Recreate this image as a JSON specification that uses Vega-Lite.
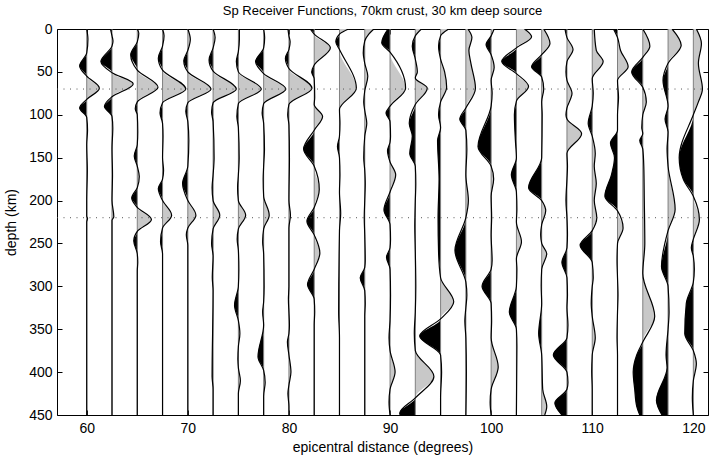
{
"$schema": "https://vega.github.io/schema/vega-lite/v6.json",
"width": 651, "height": 386,
"autosize": {"type": "none"},
"padding": {"left": 57, "top": 29, "right": 1, "bottom": 44},
"background": "white",
"config": {
  "view": {"stroke": "black", "strokeWidth": 1},
  "font": "Liberation Sans",
  "axis": {"grid": false, "domain": false, "tickSize": 5, "offset": -5, "tickColor": "black", "labelColor": "black", "titleColor": "black", "labelFontSize": 14, "titleFontSize": 14, "titleFontWeight": "normal", "labelFont": "Liberation Sans", "titleFont": "Liberation Sans"}
},
"title": {"text": "Sp Receiver Functions, 70km crust, 30 km deep source", "fontSize": 13, "fontWeight": "normal", "font": "Liberation Sans", "color": "black", "offset": 4},
"data": {"values": [
{"d":60,"z":0,"a":0},{"d":60,"z":12,"a":0.12},{"d":60,"z":28,"a":0},{"d":60,"z":43,"a":-0.7},{"d":60,"z":55,"a":0},{"d":60,"z":69,"a":1.25},{"d":60,"z":82,"a":0},{"d":60,"z":92,"a":-0.7},{"d":60,"z":103,"a":0},{"d":60,"z":118,"a":0.08},{"d":60,"z":135,"a":0},{"d":60,"z":165,"a":0.06},{"d":60,"z":200,"a":0},{"d":60,"z":218,"a":0},{"d":60,"z":221,"a":0.08},{"d":60,"z":225,"a":0},{"d":60,"z":450,"a":0},
{"d":62.5,"z":0,"a":-0.15},{"d":62.5,"z":8,"a":0},{"d":62.5,"z":14,"a":0.1},{"d":62.5,"z":20,"a":0},{"d":62.5,"z":38,"a":-1.1},{"d":62.5,"z":51,"a":0},{"d":62.5,"z":64,"a":2.1},{"d":62.5,"z":79,"a":0},{"d":62.5,"z":90,"a":-0.75},{"d":62.5,"z":102,"a":0},{"d":62.5,"z":115,"a":0.08},{"d":62.5,"z":140,"a":0},{"d":62.5,"z":170,"a":0.05},{"d":62.5,"z":200,"a":0},{"d":62.5,"z":219,"a":0.18},{"d":62.5,"z":223,"a":0},{"d":62.5,"z":450,"a":0},
{"d":65,"z":0,"a":0},{"d":65,"z":5,"a":0.15},{"d":65,"z":15,"a":0},{"d":65,"z":30,"a":-0.65},{"d":65,"z":48,"a":0},{"d":65,"z":68,"a":2.05},{"d":65,"z":85,"a":0},{"d":65,"z":93,"a":-0.2},{"d":65,"z":100,"a":0},{"d":65,"z":120,"a":0.05},{"d":65,"z":135,"a":0},{"d":65,"z":148,"a":-0.3},{"d":65,"z":160,"a":0},{"d":65,"z":172,"a":0.2},{"d":65,"z":185,"a":0},{"d":65,"z":197,"a":-0.55},{"d":65,"z":208,"a":0},{"d":65,"z":222,"a":1.4},{"d":65,"z":236,"a":0},{"d":65,"z":247,"a":-0.35},{"d":65,"z":262,"a":0},{"d":65,"z":272,"a":0.05},{"d":65,"z":282,"a":0},{"d":65,"z":450,"a":0},
{"d":67.5,"z":0,"a":0},{"d":67.5,"z":8,"a":0.15},{"d":67.5,"z":20,"a":0},{"d":67.5,"z":34,"a":-0.42},{"d":67.5,"z":48,"a":0},{"d":67.5,"z":70,"a":2.3},{"d":67.5,"z":86,"a":0},{"d":67.5,"z":98,"a":-0.25},{"d":67.5,"z":110,"a":0},{"d":67.5,"z":125,"a":0.05},{"d":67.5,"z":150,"a":0},{"d":67.5,"z":165,"a":0.1},{"d":67.5,"z":175,"a":0},{"d":67.5,"z":186,"a":-0.42},{"d":67.5,"z":200,"a":0},{"d":67.5,"z":217,"a":0.9},{"d":67.5,"z":232,"a":0},{"d":67.5,"z":248,"a":-0.2},{"d":67.5,"z":262,"a":0},{"d":67.5,"z":450,"a":0},
{"d":70,"z":0,"a":0},{"d":70,"z":12,"a":0.25},{"d":70,"z":25,"a":0},{"d":70,"z":37,"a":-0.4},{"d":70,"z":50,"a":0},{"d":70,"z":70,"a":2.3},{"d":70,"z":86,"a":0},{"d":70,"z":96,"a":-0.2},{"d":70,"z":108,"a":0},{"d":70,"z":130,"a":0.1},{"d":70,"z":160,"a":0},{"d":70,"z":180,"a":-0.52},{"d":70,"z":200,"a":0},{"d":70,"z":217,"a":0.8},{"d":70,"z":232,"a":0},{"d":70,"z":240,"a":-0.15},{"d":70,"z":252,"a":0},{"d":70,"z":450,"a":0},
{"d":72.5,"z":0,"a":0},{"d":72.5,"z":10,"a":0.2},{"d":72.5,"z":22,"a":0},{"d":72.5,"z":36,"a":-0.4},{"d":72.5,"z":49,"a":0},{"d":72.5,"z":70,"a":2.3},{"d":72.5,"z":86,"a":0},{"d":72.5,"z":97,"a":-0.15},{"d":72.5,"z":108,"a":0},{"d":72.5,"z":150,"a":0.1},{"d":72.5,"z":170,"a":0},{"d":72.5,"z":185,"a":-0.1},{"d":72.5,"z":200,"a":0},{"d":72.5,"z":217,"a":0.66},{"d":72.5,"z":233,"a":0},{"d":72.5,"z":250,"a":-0.15},{"d":72.5,"z":265,"a":0},{"d":72.5,"z":290,"a":-0.08},{"d":72.5,"z":305,"a":0},{"d":72.5,"z":405,"a":-0.1},{"d":72.5,"z":420,"a":0},{"d":72.5,"z":450,"a":0},
{"d":75,"z":0,"a":0.1},{"d":75,"z":12,"a":0.1},{"d":75,"z":26,"a":0},{"d":75,"z":38,"a":-0.2},{"d":75,"z":50,"a":0},{"d":75,"z":70,"a":2.27},{"d":75,"z":87,"a":0},{"d":75,"z":102,"a":-0.15},{"d":75,"z":115,"a":0},{"d":75,"z":150,"a":0.08},{"d":75,"z":170,"a":0},{"d":75,"z":185,"a":-0.08},{"d":75,"z":200,"a":0},{"d":75,"z":217,"a":0.72},{"d":75,"z":233,"a":0},{"d":75,"z":245,"a":-0.12},{"d":75,"z":258,"a":0},{"d":75,"z":280,"a":0.05},{"d":75,"z":300,"a":0},{"d":75,"z":322,"a":-0.38},{"d":75,"z":340,"a":0},{"d":75,"z":355,"a":0.15},{"d":75,"z":370,"a":0},{"d":75,"z":385,"a":-0.05},{"d":75,"z":395,"a":0},{"d":75,"z":410,"a":0.2},{"d":75,"z":425,"a":0},{"d":75,"z":450,"a":0},
{"d":77.5,"z":0,"a":0},{"d":77.5,"z":10,"a":0.1},{"d":77.5,"z":22,"a":0},{"d":77.5,"z":38,"a":-0.8},{"d":77.5,"z":52,"a":0},{"d":77.5,"z":70,"a":2.2},{"d":77.5,"z":87,"a":0},{"d":77.5,"z":98,"a":-0.15},{"d":77.5,"z":110,"a":0},{"d":77.5,"z":140,"a":0.08},{"d":77.5,"z":160,"a":0},{"d":77.5,"z":175,"a":-0.05},{"d":77.5,"z":195,"a":0},{"d":77.5,"z":217,"a":0.55},{"d":77.5,"z":233,"a":0},{"d":77.5,"z":248,"a":-0.1},{"d":77.5,"z":262,"a":0},{"d":77.5,"z":300,"a":0.05},{"d":77.5,"z":318,"a":0},{"d":77.5,"z":330,"a":-0.1},{"d":77.5,"z":345,"a":0},{"d":77.5,"z":382,"a":-0.56},{"d":77.5,"z":398,"a":0},{"d":77.5,"z":412,"a":0.15},{"d":77.5,"z":428,"a":0},{"d":77.5,"z":450,"a":0},
{"d":80,"z":0,"a":-0.1},{"d":80,"z":8,"a":0},{"d":80,"z":15,"a":0.12},{"d":80,"z":24,"a":0},{"d":80,"z":34,"a":-0.35},{"d":80,"z":46,"a":0},{"d":80,"z":69,"a":2.28},{"d":80,"z":88,"a":0},{"d":80,"z":100,"a":-0.12},{"d":80,"z":112,"a":0},{"d":80,"z":150,"a":0.05},{"d":80,"z":200,"a":0},{"d":80,"z":217,"a":0.15},{"d":80,"z":232,"a":0},{"d":80,"z":300,"a":0},{"d":80,"z":315,"a":-0.05},{"d":80,"z":330,"a":0},{"d":80,"z":345,"a":0.05},{"d":80,"z":355,"a":0},{"d":80,"z":365,"a":-0.15},{"d":80,"z":380,"a":0},{"d":80,"z":400,"a":0.2},{"d":80,"z":415,"a":0},{"d":80,"z":425,"a":-0.1},{"d":80,"z":440,"a":0},{"d":80,"z":450,"a":0},
{"d":82.5,"z":0,"a":-0.4},{"d":82.5,"z":6,"a":0},{"d":82.5,"z":22,"a":1.6},{"d":82.5,"z":42,"a":0},{"d":82.5,"z":50,"a":-0.25},{"d":82.5,"z":58,"a":0},{"d":82.5,"z":80,"a":0.05},{"d":82.5,"z":88,"a":0},{"d":82.5,"z":102,"a":0.83},{"d":82.5,"z":118,"a":0},{"d":82.5,"z":140,"a":-1.05},{"d":82.5,"z":160,"a":0},{"d":82.5,"z":187,"a":0.5},{"d":82.5,"z":208,"a":0},{"d":82.5,"z":224,"a":-0.72},{"d":82.5,"z":240,"a":0},{"d":82.5,"z":261,"a":0.56},{"d":82.5,"z":280,"a":0},{"d":82.5,"z":298,"a":-0.66},{"d":82.5,"z":315,"a":0},{"d":82.5,"z":330,"a":0.05},{"d":82.5,"z":345,"a":0},{"d":82.5,"z":450,"a":0},
{"d":85,"z":0,"a":0.9},{"d":85,"z":6,"a":0},{"d":85,"z":15,"a":-0.36},{"d":85,"z":24,"a":0},{"d":85,"z":69,"a":1.67},{"d":85,"z":94,"a":0},{"d":85,"z":110,"a":0.05},{"d":85,"z":125,"a":0},{"d":85,"z":137,"a":-0.2},{"d":85,"z":150,"a":0},{"d":85,"z":170,"a":0.05},{"d":85,"z":190,"a":0},{"d":85,"z":215,"a":0.12},{"d":85,"z":235,"a":0},{"d":85,"z":330,"a":-0.08},{"d":85,"z":360,"a":0},{"d":85,"z":450,"a":0},
{"d":87.5,"z":0,"a":0.9},{"d":87.5,"z":6,"a":0.4},{"d":87.5,"z":14,"a":0},{"d":87.5,"z":28,"a":-0.15},{"d":87.5,"z":40,"a":0},{"d":87.5,"z":55,"a":0.3},{"d":87.5,"z":72,"a":0},{"d":87.5,"z":85,"a":-0.1},{"d":87.5,"z":95,"a":0},{"d":87.5,"z":110,"a":0.2},{"d":87.5,"z":125,"a":0},{"d":87.5,"z":150,"a":-0.1},{"d":87.5,"z":165,"a":0},{"d":87.5,"z":180,"a":0.05},{"d":87.5,"z":200,"a":0},{"d":87.5,"z":220,"a":-0.05},{"d":87.5,"z":240,"a":0},{"d":87.5,"z":270,"a":0.05},{"d":87.5,"z":278,"a":0},{"d":87.5,"z":290,"a":-0.45},{"d":87.5,"z":305,"a":0},{"d":87.5,"z":320,"a":0.05},{"d":87.5,"z":335,"a":0},{"d":87.5,"z":450,"a":0},
{"d":90,"z":0,"a":-0.2},{"d":90,"z":16,"a":-0.82},{"d":90,"z":27,"a":0},{"d":90,"z":69,"a":1.54},{"d":90,"z":90,"a":0},{"d":90,"z":98,"a":-0.4},{"d":90,"z":108,"a":0},{"d":90,"z":125,"a":0.05},{"d":90,"z":132,"a":0},{"d":90,"z":142,"a":-0.25},{"d":90,"z":155,"a":0},{"d":90,"z":170,"a":0.56},{"d":90,"z":190,"a":0},{"d":90,"z":211,"a":-0.6},{"d":90,"z":228,"a":0},{"d":90,"z":245,"a":0.05},{"d":90,"z":255,"a":0},{"d":90,"z":266,"a":-0.35},{"d":90,"z":280,"a":0},{"d":90,"z":310,"a":0.05},{"d":90,"z":340,"a":0},{"d":90,"z":360,"a":-0.1},{"d":90,"z":375,"a":0},{"d":90,"z":400,"a":0.5},{"d":90,"z":420,"a":0},{"d":90,"z":435,"a":-0.1},{"d":90,"z":450,"a":0},
{"d":92.5,"z":0,"a":0.6},{"d":92.5,"z":8,"a":0},{"d":92.5,"z":20,"a":-0.3},{"d":92.5,"z":35,"a":0},{"d":92.5,"z":50,"a":0.2},{"d":92.5,"z":57,"a":0},{"d":92.5,"z":69,"a":1.18},{"d":92.5,"z":88,"a":0},{"d":92.5,"z":110,"a":-0.6},{"d":92.5,"z":125,"a":-0.3},{"d":92.5,"z":145,"a":-0.55},{"d":92.5,"z":160,"a":0},{"d":92.5,"z":180,"a":0.05},{"d":92.5,"z":200,"a":0},{"d":92.5,"z":230,"a":-0.05},{"d":92.5,"z":260,"a":0},{"d":92.5,"z":300,"a":0.05},{"d":92.5,"z":330,"a":0},{"d":92.5,"z":355,"a":-0.1},{"d":92.5,"z":375,"a":0},{"d":92.5,"z":405,"a":1.84},{"d":92.5,"z":430,"a":0},{"d":92.5,"z":448,"a":-1.54},{"d":92.5,"z":450,"a":-1.5},
{"d":95,"z":0,"a":0.8},{"d":95,"z":8,"a":0},{"d":95,"z":20,"a":-0.2},{"d":95,"z":35,"a":0},{"d":95,"z":50,"a":0.4},{"d":95,"z":68,"a":0.6},{"d":95,"z":85,"a":0},{"d":95,"z":100,"a":-0.2},{"d":95,"z":115,"a":0},{"d":95,"z":130,"a":-0.3},{"d":95,"z":175,"a":-0.15},{"d":95,"z":220,"a":-0.25},{"d":95,"z":260,"a":-0.2},{"d":95,"z":290,"a":0},{"d":95,"z":318,"a":1.3},{"d":95,"z":338,"a":0},{"d":95,"z":358,"a":-2.07},{"d":95,"z":380,"a":0},{"d":95,"z":400,"a":0.1},{"d":95,"z":430,"a":0},{"d":95,"z":450,"a":0},
{"d":97.5,"z":0,"a":0.2},{"d":97.5,"z":10,"a":0.6},{"d":97.5,"z":25,"a":0.3},{"d":97.5,"z":40,"a":0.5},{"d":97.5,"z":69,"a":0.95},{"d":97.5,"z":92,"a":0},{"d":97.5,"z":105,"a":-0.6},{"d":97.5,"z":118,"a":0},{"d":97.5,"z":140,"a":0.1},{"d":97.5,"z":170,"a":0},{"d":97.5,"z":200,"a":0.25},{"d":97.5,"z":220,"a":0},{"d":97.5,"z":258,"a":-1.08},{"d":97.5,"z":295,"a":0},{"d":97.5,"z":310,"a":0.1},{"d":97.5,"z":325,"a":0},{"d":97.5,"z":340,"a":-0.1},{"d":97.5,"z":360,"a":0},{"d":97.5,"z":400,"a":0.05},{"d":97.5,"z":450,"a":0},
{"d":100,"z":0,"a":0.3},{"d":100,"z":8,"a":0},{"d":100,"z":18,"a":-0.5},{"d":100,"z":30,"a":0},{"d":100,"z":45,"a":0.3},{"d":100,"z":60,"a":0},{"d":100,"z":75,"a":0.1},{"d":100,"z":90,"a":0},{"d":100,"z":137,"a":-1.3},{"d":100,"z":160,"a":0},{"d":100,"z":175,"a":0.25},{"d":100,"z":195,"a":0},{"d":100,"z":220,"a":0.05},{"d":100,"z":240,"a":0},{"d":100,"z":270,"a":0.1},{"d":100,"z":280,"a":0},{"d":100,"z":300,"a":-0.9},{"d":100,"z":320,"a":0},{"d":100,"z":340,"a":0.05},{"d":100,"z":360,"a":0},{"d":100,"z":394,"a":0.7},{"d":100,"z":420,"a":0},{"d":100,"z":435,"a":-0.1},{"d":100,"z":450,"a":0},
{"d":102.5,"z":0,"a":0.8},{"d":102.5,"z":9,"a":1.5},{"d":102.5,"z":22,"a":0},{"d":102.5,"z":38,"a":-1.45},{"d":102.5,"z":52,"a":0},{"d":102.5,"z":67,"a":1.2},{"d":102.5,"z":84,"a":0},{"d":102.5,"z":100,"a":-0.2},{"d":102.5,"z":130,"a":-0.1},{"d":102.5,"z":150,"a":0},{"d":102.5,"z":170,"a":-0.5},{"d":102.5,"z":190,"a":0},{"d":102.5,"z":210,"a":0.05},{"d":102.5,"z":225,"a":0},{"d":102.5,"z":248,"a":0.5},{"d":102.5,"z":268,"a":0},{"d":102.5,"z":280,"a":0.05},{"d":102.5,"z":300,"a":0},{"d":102.5,"z":330,"a":-0.7},{"d":102.5,"z":350,"a":0},{"d":102.5,"z":370,"a":0.05},{"d":102.5,"z":450,"a":0},
{"d":105,"z":0,"a":0.2},{"d":105,"z":17,"a":0.82},{"d":105,"z":30,"a":0},{"d":105,"z":44,"a":-1.0},{"d":105,"z":56,"a":0},{"d":105,"z":70,"a":0.2},{"d":105,"z":85,"a":0},{"d":105,"z":100,"a":0.05},{"d":105,"z":150,"a":0},{"d":105,"z":185,"a":-1.3},{"d":105,"z":200,"a":0},{"d":105,"z":212,"a":0.4},{"d":105,"z":228,"a":0},{"d":105,"z":240,"a":-0.1},{"d":105,"z":250,"a":0},{"d":105,"z":262,"a":0.5},{"d":105,"z":280,"a":0},{"d":105,"z":300,"a":-0.05},{"d":105,"z":320,"a":0},{"d":105,"z":355,"a":-0.3},{"d":105,"z":380,"a":0},{"d":105,"z":420,"a":0.1},{"d":105,"z":440,"a":0.5},{"d":105,"z":450,"a":0.3},
{"d":107.5,"z":0,"a":-0.2},{"d":107.5,"z":10,"a":0},{"d":107.5,"z":24,"a":0.6},{"d":107.5,"z":38,"a":0},{"d":107.5,"z":50,"a":-0.1},{"d":107.5,"z":60,"a":0},{"d":107.5,"z":75,"a":0.5},{"d":107.5,"z":92,"a":0},{"d":107.5,"z":100,"a":-0.1},{"d":107.5,"z":105,"a":0},{"d":107.5,"z":122,"a":1.45},{"d":107.5,"z":145,"a":0},{"d":107.5,"z":160,"a":0.05},{"d":107.5,"z":175,"a":0},{"d":107.5,"z":200,"a":-0.1},{"d":107.5,"z":220,"a":0},{"d":107.5,"z":240,"a":0.05},{"d":107.5,"z":255,"a":0},{"d":107.5,"z":272,"a":-0.5},{"d":107.5,"z":290,"a":0},{"d":107.5,"z":310,"a":0.05},{"d":107.5,"z":325,"a":0},{"d":107.5,"z":345,"a":0.1},{"d":107.5,"z":360,"a":0},{"d":107.5,"z":380,"a":-1.35},{"d":107.5,"z":400,"a":0},{"d":107.5,"z":412,"a":0.1},{"d":107.5,"z":420,"a":0},{"d":107.5,"z":436,"a":-1.2},{"d":107.5,"z":450,"a":-0.5},
{"d":110,"z":0,"a":0.2},{"d":110,"z":25,"a":0.4},{"d":110,"z":38,"a":1.08},{"d":110,"z":58,"a":0},{"d":110,"z":75,"a":0.1},{"d":110,"z":90,"a":0},{"d":110,"z":110,"a":-0.4},{"d":110,"z":125,"a":0},{"d":110,"z":145,"a":0.3},{"d":110,"z":160,"a":0.2},{"d":110,"z":180,"a":0.4},{"d":110,"z":200,"a":0.2},{"d":110,"z":220,"a":0.45},{"d":110,"z":235,"a":0},{"d":110,"z":252,"a":-1.2},{"d":110,"z":272,"a":0},{"d":110,"z":290,"a":0.1},{"d":110,"z":300,"a":0},{"d":110,"z":320,"a":-0.1},{"d":110,"z":335,"a":0},{"d":110,"z":360,"a":0.3},{"d":110,"z":380,"a":0},{"d":110,"z":400,"a":-0.05},{"d":110,"z":420,"a":0},{"d":110,"z":450,"a":0},
{"d":112.5,"z":0,"a":-0.4},{"d":112.5,"z":10,"a":0},{"d":112.5,"z":25,"a":0.3},{"d":112.5,"z":44,"a":1.05},{"d":112.5,"z":60,"a":0},{"d":112.5,"z":80,"a":0.1},{"d":112.5,"z":100,"a":0},{"d":112.5,"z":118,"a":0},{"d":112.5,"z":133,"a":-0.7},{"d":112.5,"z":150,"a":-0.3},{"d":112.5,"z":170,"a":-0.6},{"d":112.5,"z":195,"a":-1.25},{"d":112.5,"z":212,"a":0},{"d":112.5,"z":232,"a":0.55},{"d":112.5,"z":250,"a":0},{"d":112.5,"z":270,"a":-0.05},{"d":112.5,"z":290,"a":0},{"d":112.5,"z":310,"a":0.05},{"d":112.5,"z":330,"a":0},{"d":112.5,"z":360,"a":-0.05},{"d":112.5,"z":380,"a":0},{"d":112.5,"z":450,"a":0},
{"d":115,"z":0,"a":0},{"d":115,"z":20,"a":0.7},{"d":115,"z":33,"a":0},{"d":115,"z":50,"a":-1.1},{"d":115,"z":68,"a":0},{"d":115,"z":85,"a":0.35},{"d":115,"z":100,"a":0},{"d":115,"z":115,"a":-0.1},{"d":115,"z":122,"a":0},{"d":115,"z":130,"a":-0.3},{"d":115,"z":140,"a":0},{"d":115,"z":160,"a":0.1},{"d":115,"z":200,"a":0.15},{"d":115,"z":250,"a":0.2},{"d":115,"z":285,"a":0},{"d":115,"z":335,"a":1.18},{"d":115,"z":365,"a":0},{"d":115,"z":380,"a":-0.6},{"d":115,"z":400,"a":-0.95},{"d":115,"z":420,"a":-0.8},{"d":115,"z":440,"a":-0.6},{"d":115,"z":450,"a":-0.3},
{"d":117.5,"z":0,"a":0.4},{"d":117.5,"z":19,"a":1.3},{"d":117.5,"z":40,"a":0},{"d":117.5,"z":60,"a":-0.5},{"d":117.5,"z":90,"a":0},{"d":117.5,"z":105,"a":-0.3},{"d":117.5,"z":120,"a":0},{"d":117.5,"z":140,"a":-0.1},{"d":117.5,"z":160,"a":0},{"d":117.5,"z":210,"a":0.7},{"d":117.5,"z":235,"a":0},{"d":117.5,"z":277,"a":-0.65},{"d":117.5,"z":300,"a":0},{"d":117.5,"z":330,"a":0.1},{"d":117.5,"z":350,"a":0},{"d":117.5,"z":380,"a":-0.2},{"d":117.5,"z":395,"a":-0.1},{"d":117.5,"z":433,"a":-1.15},{"d":117.5,"z":450,"a":-0.6},
{"d":120,"z":0,"a":0.3},{"d":120,"z":17,"a":0.8},{"d":120,"z":40,"a":0.5},{"d":120,"z":70,"a":0.9},{"d":120,"z":85,"a":0.5},{"d":120,"z":100,"a":0},{"d":120,"z":150,"a":-1.4},{"d":120,"z":175,"a":-1.0},{"d":120,"z":195,"a":0},{"d":120,"z":222,"a":0.6},{"d":120,"z":245,"a":0},{"d":120,"z":255,"a":-0.2},{"d":120,"z":265,"a":0},{"d":120,"z":280,"a":0.1},{"d":120,"z":295,"a":0},{"d":120,"z":320,"a":-0.7},{"d":120,"z":355,"a":-0.85},{"d":120,"z":375,"a":0},{"d":120,"z":390,"a":0.3},{"d":120,"z":410,"a":0},{"d":120,"z":430,"a":-0.1},{"d":120,"z":450,"a":0}
]},
"transform": [
  {"calculate": "datum.d + datum.a", "as": "xw"},
  {"calculate": "datum.d + max(datum.a, 0)", "as": "xp"},
  {"calculate": "datum.d + min(datum.a, 0)", "as": "xn"}
],
"layer": [
  {
    "mark": {"type": "area", "orient": "horizontal", "interpolate": "monotone", "fill": "#c8c8c8", "clip": true},
    "encoding": {
      "x": {"field": "xp", "type": "quantitative", "stack": null, "scale": {"domain": [57.06, 121.45], "nice": false, "zero": false},
            "axis": {"orient": "bottom", "values": [60,70,80,90,100,110,120], "title": "epicentral distance (degrees)", "labelPadding": 6, "titlePadding": 5}},
      "x2": {"field": "d"},
      "y": {"field": "z", "type": "quantitative", "scale": {"domain": [0, 450], "reverse": true, "nice": false, "zero": false},
            "axis": {"orient": "left", "values": [0,50,100,150,200,250,300,350,400,450], "title": "depth (km)", "labelPadding": 5, "titlePadding": 10}},
      "detail": {"field": "d", "type": "nominal"}
    }
  },
  {
    "mark": {"type": "area", "orient": "horizontal", "interpolate": "monotone", "fill": "black", "clip": true},
    "encoding": {
      "x": {"field": "xn", "type": "quantitative", "stack": null, "axis": {"orient": "top", "values": [60,70,80,90,100,110,120], "labels": false, "title": null}},
      "x2": {"field": "d"},
      "y": {"field": "z", "type": "quantitative", "axis": {"orient": "right", "values": [0,50,100,150,200,250,300,350,400,450], "labels": false, "title": null}},
      "detail": {"field": "d", "type": "nominal"}
    }
  },
  {
    "transform": [{"aggregate": [{"op": "count", "as": "n"}], "groupby": ["d"]}],
    "mark": {"type": "rule", "color": "#808080", "strokeWidth": 1},
    "encoding": {
      "x": {"field": "d", "type": "quantitative", "axis": null},
      "y": {"datum": 0, "type": "quantitative", "axis": null},
      "y2": {"datum": 450}
    }
  },
  {
    "mark": {"type": "area", "orient": "horizontal", "interpolate": "monotone", "fill": null, "fillOpacity": 0, "stroke": "black", "strokeWidth": 1.2, "clip": true},
    "encoding": {
      "x": {"field": "xw", "type": "quantitative", "stack": null, "axis": null},
      "x2": {"field": "xw"},
      "y": {"field": "z", "type": "quantitative", "axis": null},
      "detail": {"field": "d", "type": "nominal"}
    }
  },
  {
    "data": {"values": [{"z": 70}, {"z": 220}]},
    "mark": {"type": "rule", "color": "#555555", "strokeWidth": 1, "strokeDash": [1, 5.5]},
    "encoding": {
      "y": {"field": "z", "type": "quantitative", "axis": null}
    }
  }
],
"resolve": {"axis": {"x": "independent", "y": "independent"}}
}
